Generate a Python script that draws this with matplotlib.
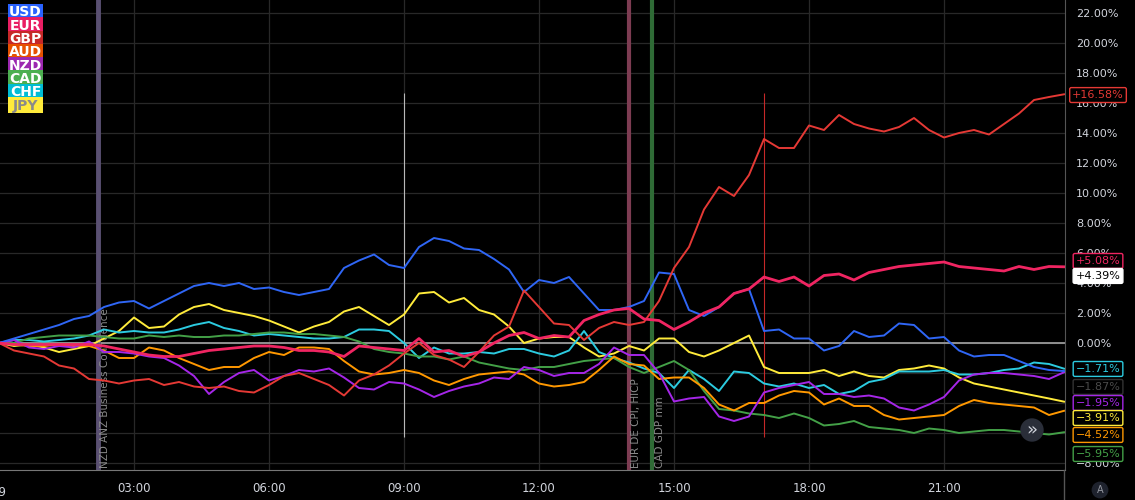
import numpy as np
import matplotlib
matplotlib.use("Agg")
import matplotlib.pyplot as plt
from matplotlib.patches import Rectangle
from matplotlib.lines import Line2D
from matplotlib.ticker import FixedLocator, FuncFormatter
from matplotlib.transforms import blended_transform_factory

# minutes since midnight, one sample every 20 min
minutes = list(range(0, 1440, 20))

usd = [0.0, 0.3, 0.6, 0.9, 1.2, 1.6, 1.8, 2.4, 2.7, 2.8,
       2.3, 2.8, 3.3, 3.8, 4.0, 3.8, 4.0, 3.6, 3.7, 3.4,
       3.2, 3.4, 3.6, 5.0, 5.5, 5.9, 5.2, 5.0, 6.4, 7.0,
       6.8, 6.3, 6.2, 5.6, 4.9, 3.4, 4.2, 4.0, 4.4, 3.3,
       2.2, 2.2, 2.4, 2.8, 4.7, 4.6, 2.2, 1.8, 2.4, 3.3,
       3.6, 0.8, 0.9, 0.3, 0.3, -0.5, -0.2, 0.8, 0.4, 0.5,
       1.3, 1.2, 0.3, 0.4, -0.5, -0.9, -0.8, -0.8, -1.2, -1.6,
       -1.8, -1.87]
eur = [0.0, -0.1, -0.1, -0.1, -0.1, -0.1, -0.1, -0.2, -0.4, -0.6,
       -0.8, -0.9, -0.9, -0.7, -0.5, -0.4, -0.3, -0.2, -0.2, -0.3,
       -0.5, -0.5, -0.6, -0.9, -0.2, -0.3, -0.4, -0.5, 0.3, -0.6,
       -0.5, -0.9, -0.6, 0.0, 0.5, 0.7, 0.3, 0.5, 0.4, 1.5,
       1.9, 2.2, 2.3, 1.6, 1.5, 0.9, 1.4, 2.0, 2.4, 3.3,
       3.6, 4.4, 4.1, 4.4, 3.8, 4.5, 4.6, 4.2, 4.7, 4.9,
       5.1, 5.2, 5.3, 5.4, 5.1, 5.0, 4.9, 4.8, 5.1, 4.9,
       5.1, 5.08]
gbp = [0.0, -0.5, -0.7, -0.9, -1.5, -1.7, -2.4, -2.5, -2.7, -2.5,
       -2.4, -2.8, -2.6, -2.9, -3.0, -2.9, -3.2, -3.3, -2.8, -2.2,
       -2.0, -2.4, -2.8, -3.5, -2.5, -2.1, -1.5, -0.7, 0.0, -0.8,
       -1.1, -1.6, -0.6, 0.5, 1.1, 3.5, 2.4, 1.3, 1.2, 0.2,
       1.0, 1.4, 1.2, 1.4, 2.8, 5.0, 6.4, 8.9, 10.4, 9.8,
       11.2, 13.6, 13.0, 13.0, 14.5, 14.2, 15.2, 14.6, 14.3, 14.1,
       14.4, 15.0, 14.2, 13.7, 14.0, 14.2, 13.9, 14.6, 15.3, 16.2,
       16.4, 16.58]
aud = [0.0, -0.1, -0.2, -0.2, -0.1, -0.2, -0.2, -0.5, -1.0, -1.0,
       -0.3, -0.5, -1.0, -1.4, -1.8, -1.6, -1.6, -1.0, -0.6, -0.8,
       -0.3, -0.3, -0.4, -1.2, -1.9, -2.1, -2.0, -1.8, -2.0, -2.5,
       -2.8, -2.4, -2.1, -2.0, -1.9, -2.1, -2.7, -2.9, -2.8, -2.6,
       -1.8, -0.9, -1.4, -1.5, -2.4, -2.3, -2.3, -3.0, -4.1, -4.5,
       -4.0, -4.0, -3.5, -3.2, -3.3, -4.1, -3.7, -4.2, -4.2, -4.8,
       -5.1, -5.0, -4.9, -4.8, -4.2, -3.8, -4.0, -4.1, -4.2, -4.3,
       -4.8, -4.52]
nzd = [0.0, 0.2, -0.3, -0.4, -0.2, -0.3, 0.1, -0.6, -0.6, -0.7,
       -0.9, -1.0, -1.5, -2.2, -3.4, -2.6, -2.0, -1.8, -2.5, -2.2,
       -1.8, -1.9, -1.7, -2.3, -3.0, -3.1, -2.6, -2.7, -3.1, -3.6,
       -3.2, -2.9, -2.7, -2.3, -2.4, -1.6, -1.8, -2.2, -2.0, -2.0,
       -1.4, -0.3, -0.8, -0.8, -2.0, -3.9, -3.7, -3.6, -4.9, -5.2,
       -4.9, -3.3, -3.0, -2.8, -2.6, -3.4, -3.4, -3.6, -3.5, -3.7,
       -4.3, -4.5, -4.1, -3.6, -2.5, -2.1, -2.0, -2.0, -2.1, -2.2,
       -2.4, -1.95]
cad = [0.0, 0.0, 0.3, 0.4, 0.5, 0.5, 0.5, 0.4, 0.3, 0.3,
       0.5, 0.4, 0.5, 0.4, 0.4, 0.5, 0.5, 0.6, 0.7, 0.7,
       0.6, 0.6, 0.5, 0.4, 0.1, -0.4, -0.6, -0.7, -0.9, -0.9,
       -1.1, -0.9, -1.3, -1.5, -1.7, -1.8, -1.6, -1.6, -1.4, -1.2,
       -1.1, -1.0, -1.6, -2.0, -1.6, -1.2, -1.8, -3.2, -4.4, -4.5,
       -4.7, -4.8, -5.0, -4.7, -5.0, -5.5, -5.4, -5.2, -5.6, -5.7,
       -5.8, -6.0, -5.7, -5.8, -6.0, -5.9, -5.8, -5.8, -5.9, -6.0,
       -6.1, -5.95]
chf = [0.0, 0.2, 0.2, 0.1, 0.2, 0.3, 0.5, 0.9, 0.7, 0.8,
       0.7, 0.7, 0.9, 1.2, 1.4, 1.0, 0.8, 0.5, 0.6, 0.5,
       0.4, 0.3, 0.3, 0.4, 0.9, 0.9, 0.8, 0.0, -1.0, -0.3,
       -0.7, -0.7, -0.6, -0.7, -0.4, -0.4, -0.7, -0.9, -0.5, 0.8,
       -0.6, -1.0, -1.3, -1.7, -2.0, -3.0, -1.8, -2.4, -3.2, -1.9,
       -2.0, -2.7, -2.9, -2.7, -3.0, -2.8, -3.4, -3.2, -2.6, -2.4,
       -1.9, -1.9, -1.9, -1.8, -2.1, -2.1, -2.0, -1.8, -1.7, -1.3,
       -1.4, -1.71]
jpy = [0.0, -0.2, -0.1, -0.3, -0.6, -0.4, -0.2, 0.3, 0.8, 1.7,
       1.0, 1.1, 1.9, 2.4, 2.6, 2.2, 2.0, 1.8, 1.5, 1.1,
       0.7, 1.1, 1.4, 2.1, 2.4, 1.8, 1.2, 1.9, 3.3, 3.4,
       2.7, 3.0, 2.2, 1.9, 1.1, 0.0, 0.3, 0.4, 0.4, -0.3,
       -0.9, -0.7, -0.2, -0.5, 0.3, 0.3, -0.6, -0.9, -0.5, 0.0,
       0.5, -1.6, -2.0, -2.0, -2.0, -1.8, -2.2, -1.9, -2.2, -2.3,
       -1.8, -1.7, -1.5, -1.7, -2.3, -2.7, -2.9, -3.1, -3.3, -3.5,
       -3.7, -3.91]

currencies = ["USD", "EUR", "GBP", "AUD", "NZD", "CAD", "CHF", "JPY"]
box_colors = ["#2962ff", "#e91e63", "#c62828", "#e65100",
              "#9c27b0", "#4caf50", "#00bcd4", "#ffeb3b"]
line_colors = {"USD": "#2f66f5", "EUR": "#f02562", "GBP": "#e53935",
               "AUD": "#ff9800", "NZD": "#a526e8", "CAD": "#43a047",
               "CHF": "#2ccbe0", "JPY": "#ffeb3b"}
series = {"USD": usd, "EUR": eur, "GBP": gbp, "AUD": aud,
          "NZD": nzd, "CAD": cad, "CHF": chf, "JPY": jpy}

# events: (hour, label, colour, width)
events = [(2.2, "NZD ANZ Business Confidence", "#5a5072", 3.5),
          (14.0, "EUR DE CPI, HICP", "#7d3c52", 3.0),
          (14.5, "CAD GDP mm", "#2f6b36", 3.0)]
event_text_x = [2.36, 14.16, 14.68]

# right-hand value tags: (text, y position, edge, text colour, face)
tags = [("+16.58%", 16.53, "#e53935", "#e53935", "black"),
        ("+5.08%", 5.47, "#f02562", "#f02562", "black"),
        ("+4.39%", 4.47, "white", "black", "white"),
        ("\u22121.71%", -1.73, "#2ccbe0", "#2ccbe0", "black"),
        ("\u22121.87%", -2.93, "#333333", "#4a4a4a", "black"),
        ("\u22121.95%", -4.0, "#a526e8", "#a526e8", "black"),
        ("\u22123.91%", -5.0, "#ffeb3b", "#ffeb3b", "black"),
        ("\u22124.52%", -6.13, "#ff9800", "#ff9800", "black"),
        ("\u22125.95%", -7.4, "#43a047", "#43a047", "black")]

W, H = 1135, 500
hours = np.array(minutes) / 60.0

fig = plt.figure(figsize=(W / 100, H / 100), dpi=100, facecolor="black")
ax = fig.add_axes([0, 30 / H, 1065 / W, 470 / H], facecolor="black")

ax.set_xlim(1 / 45, 1066 / 45)
ax.set_ylim(-127 / 15, 343 / 15)

# grid
ax.xaxis.set_major_locator(FixedLocator([3, 6, 9, 12, 15, 18, 21]))
ax.xaxis.set_major_formatter(FuncFormatter(lambda v, p: f"{int(v):02d}:00"))
ax.yaxis.set_major_locator(FixedLocator(list(range(-8, 23, 2))))
ax.yaxis.set_major_formatter(FuncFormatter(
    lambda v, p: f"{v:.2f}%".replace("-", "\u2212")))
ax.grid(True, color="#282828", lw=0.9)
ax.set_axisbelow(True)
ax.axhline(0, color="#9a9a9a", lw=1.3, zorder=1)

ax.yaxis.tick_right()
ax.tick_params(axis="y", length=0, pad=8, labelsize=8, labelcolor="#d1d4dc")
ax.tick_params(axis="x", length=0, pad=9, labelsize=8.5, labelcolor="#d1d4dc")
for side in ["top", "left"]:
    ax.spines[side].set_visible(False)
ax.spines["right"].set_color("#555555")
ax.spines["bottom"].set_color("#777777")

# event markers
for (hx, txt, col, lw), tx in zip(events, event_text_x):
    ax.axvline(hx, color=col, lw=lw, zorder=2)
    ax.text(tx, -8.35, txt, rotation=90, ha="center", va="bottom",
            fontsize=7.5, color="#8a8a8a", zorder=2)

# thin session markers
ax.vlines(9.0, -6.27, 16.67, color="#b8b8b8", lw=0.8, zorder=2)
ax.vlines(17.0, -6.27, 16.67, color="#c62828", lw=0.8, zorder=2)

# lines
draw_order = ["JPY", "CHF", "CAD", "AUD", "NZD", "USD", "GBP", "EUR"]
for i, cur in enumerate(draw_order):
    lw = 2.0 if cur == "EUR" else 1.4
    ax.plot(hours, series[cur], color=line_colors[cur], lw=lw, zorder=3 + i)

# value tags on the price scale
trans = blended_transform_factory(ax.transAxes, ax.transData)
for txt, yv, ec, tc, fc in tags:
    ax.text(1.031, yv, txt, transform=trans, ha="center", va="center",
            fontsize=8, color=tc, clip_on=False, zorder=20,
            bbox=dict(boxstyle="round,pad=0.22,rounding_size=0.15",
                      fc=fc, ec=ec, lw=1.0))

# date stub at the left edge
ax.text(0.0, -0.035, "29", transform=blended_transform_factory(ax.transData, ax.transAxes),
        ha="center", va="top", fontsize=8.5, color="#d1d4dc", clip_on=False)

# legend boxes top-left
for i, (cur, col) in enumerate(zip(currencies, box_colors)):
    top = 4 + 13.3 * i
    fig.patches.append(Rectangle((8 / W, 1 - (top + 16) / H), 35 / W, 16 / H,
                                 transform=fig.transFigure, fc=col, ec="none",
                                 zorder=10 + 2 * i))
    fig.text(25.5 / W, 1 - (top + 8.5) / H, cur, ha="center", va="center",
             fontsize=10, fontweight="bold",
             color="#8a8a8a" if cur == "JPY" else "white",
             zorder=11 + 2 * i)

# bottom-right decorations
fig.lines.append(Line2D([1064 / W, 1064 / W], [0, 30 / H], transform=fig.transFigure,
                        color="#555555", lw=1))
fig.text(1100 / W, 1 - 490 / H, "A", ha="center", va="center", fontsize=7,
         color="#9598a1", bbox=dict(boxstyle="circle,pad=0.35", fc="#1e222d", ec="none"))
fig.text(1032 / W, 1 - 430 / H, "\u00bb", ha="center", va="center", fontsize=13,
         color="#d1d4dc", zorder=30,
         bbox=dict(boxstyle="circle,pad=0.15", fc="#2a2e39", ec="none"))

fig.savefig("out.png", dpi=100, facecolor="black")
